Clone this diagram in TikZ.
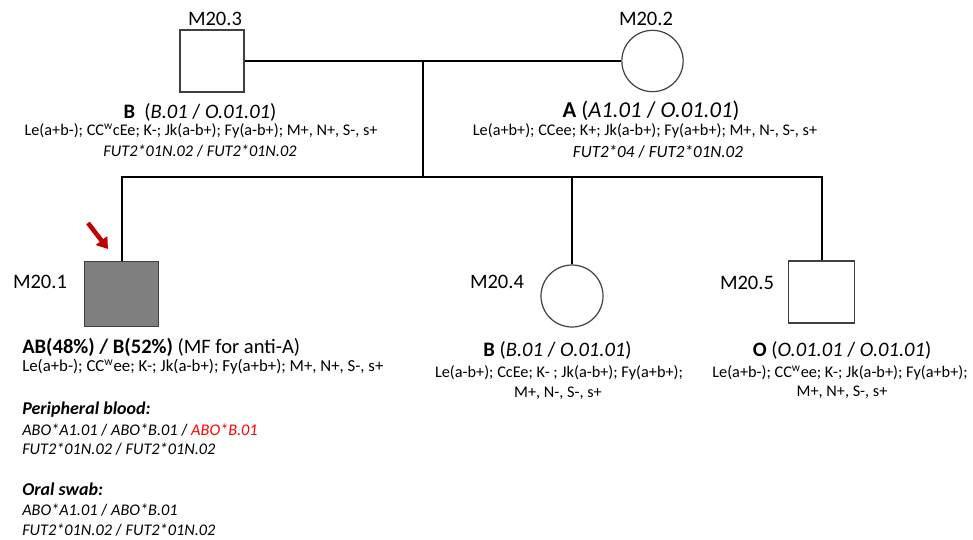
\documentclass[tikz,border=0pt]{standalone}
\usepackage{fontspec}
\setmainfont{Carlito}
\usetikzlibrary{positioning,arrows.meta,calc}

\definecolor{probandgray}{HTML}{7F7F7F}
\definecolor{edgegray}{HTML}{404040}
\definecolor{arrowred}{HTML}{C00000}
\definecolor{allelered}{HTML}{FF0000}

\newcommand{\bigtxt}{\fontsize{15.4}{18}\selectfont}
\newcommand{\smalltxt}{\fontsize{12.2}{14.6}\selectfont}

\tikzset{
  male/.style={draw=edgegray, line width=0.9pt, inner sep=0pt, minimum width=48pt, minimum height=46.5pt},
  female/.style={draw=edgegray, line width=0.9pt, circle, inner sep=0pt, minimum size=46pt},
  kin/.style={line width=1.5pt, black},
  idlab/.style={font=\bigtxt, inner sep=0pt},
  abotxt/.style={font=\bigtxt, inner sep=0pt},
  agtxt/.style={font=\smalltxt, inner sep=0pt},
  headtxt/.style={font=\fontsize{13.5}{16}\selectfont\bfseries\itshape, inner sep=0pt, anchor=west}
}

\begin{document}
\begin{tikzpicture}[x=0.75pt,y=-0.75pt]
    \useasboundingbox (0,0) rectangle (973,539);

    % parents
    \node[male] (m3) at (212,61) {};
    \node[female] (m2) at (652.5,61) {};
    \node[idlab] (m3lab) at (215,19) {M20.3};
    \node[idlab] (m2lab) at (646,19) {M20.2};

    % children
    \node[male, fill=probandgray, minimum width=55pt, minimum height=49pt] (m1) at (121.5,294) {};
    \node[female, minimum size=46.5pt] (m4) at (572,296) {};
    \node[male, minimum width=49pt] (m5) at (821.5,292) {};
    \node[idlab] (m1lab) at (40,282) {M20.1};
    \node[idlab] (m4lab) at (497,282) {M20.4};
    \node[idlab] (m5lab) at (747,283) {M20.5};

    % lines of descent
    \coordinate (mate) at (423,61);
    \coordinate (sib) at (423,177);
    \draw[kin] (m3) -- (m2);
    \draw[kin] (mate) -- (sib);
    \draw[kin] (m1.north) -- (m1.north |- sib) -- (m5.north |- sib) -- (m5.north);
    \draw[kin] (m4.north) -- (m4.north |- sib);

    % proband arrow
    \coordinate (arrtail) at (88,223);
    \coordinate (arrtip) at (108,249);
    \draw[arrowred, line width=3.4pt, -{Triangle[width=10.5pt,length=8pt]}] (arrtail) -- (arrtip);

    % M20.3
    \node[abotxt] (m3abo) at (200,112) {\textbf{B}\ \ (\textit{B.01} / \textit{O.01.01})};
    \node[agtxt] (m3ag) at (201,131) {Le(a+b-); CC\textsuperscript{w}cEe; K-; Jk(a-b+); Fy(a-b+); M+, N+, S-, s+};
    \node[agtxt] (m3fut) at (200,151) {\textit{FUT2*01N.02} / \textit{FUT2*01N.02}};

    % M20.2
    \node[abotxt, font=\fontsize{17}{20}\selectfont] (m2abo) at (651,111) {\textbf{A} (\textit{A1.01} / \textit{O.01.01})};
    \node[agtxt] (m2ag) at (645,131) {Le(a+b+); CCee; K+; Jk(a-b+); Fy(a+b+); M+, N-, S-, s+};
    \node[agtxt, font=\fontsize{12.8}{15}\selectfont] (m2fut) at (658,152) {\textit{FUT2*04} / \textit{FUT2*01N.02}};

    % M20.1 (proband)
    \node[abotxt, anchor=west] (m1abo) at (22,347) {\textbf{AB(48\%) / B(52\%)} (MF for anti-A)};
    \node[agtxt, anchor=west, font=\fontsize{12.6}{15}\selectfont] (m1ag) at (22,367) {Le(a+b-); CC\textsuperscript{w}ee; K-; Jk(a-b+); Fy(a+b+); M+, N+, S-, s+};
    \node[headtxt] (pbhead) at (22,410) {Peripheral blood:};
    \node[agtxt, anchor=west] (pbabo) at (22,430) {\textit{ABO*A1.01} / \textit{ABO*B.01} / \textcolor{allelered}{\textit{ABO*B.01}}};
    \node[agtxt, anchor=west] (pbfut) at (22,449) {\textit{FUT2*01N.02} / \textit{FUT2*01N.02}};
    \node[headtxt] (oshead) at (22,489) {Oral swab:};
    \node[agtxt, anchor=west] (osabo) at (22,510) {\textit{ABO*A1.01} / \textit{ABO*B.01}};
    \node[agtxt, anchor=west] (osfut) at (22,530) {\textit{FUT2*01N.02} / \textit{FUT2*01N.02}};

    % M20.4
    \node[abotxt] (m4abo) at (557.5,350) {\textbf{B} (\textit{B.01} / \textit{O.01.01})};
    \node[agtxt] (m4ag) at (559,373) {Le(a-b+); CcEe; K- ; Jk(a-b+); Fy(a+b+);};
    \node[agtxt] (m4mns) at (558,393) {M+, N-, S-, s+};

    % M20.5
    \node[abotxt] (m5abo) at (842,350) {\textbf{O} (\textit{O.01.01} / \textit{O.01.01})};
    \node[agtxt] (m5ag) at (840,373) {Le(a+b-); CC\textsuperscript{w}ee; K-; Jk(a-b+); Fy(a+b+);};
    \node[agtxt] (m5mns) at (842,392) {M+, N+, S-, s+};
\end{tikzpicture}
\end{document}
